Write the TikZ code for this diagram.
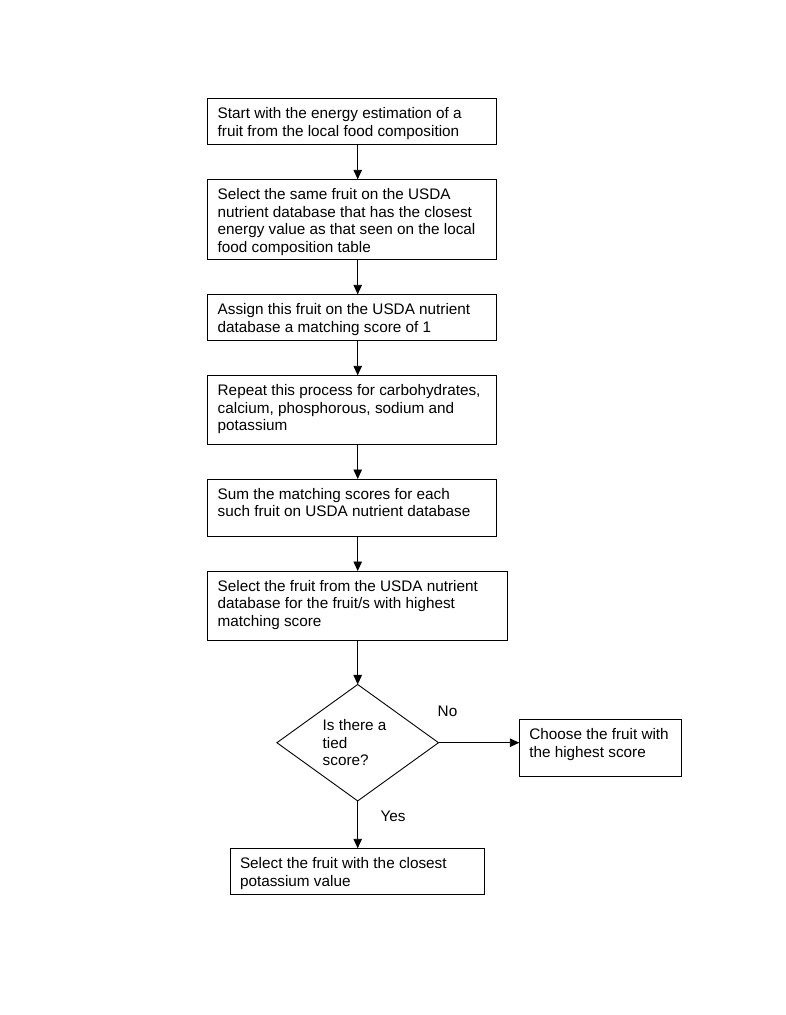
\documentclass[tikz,border=0pt]{standalone}
\usepackage{fontspec}
\setmainfont{Liberation Sans}
\usetikzlibrary{shapes.geometric,arrows.meta}
\newcommand\bxt[3]{\parbox[c][#2][t]{#1}{\vspace*{9.3pt}#3}}
\begin{document}
\begin{tikzpicture}[x=1pt,y=-1pt,
  font=\fontsize{15.3}{17.6}\selectfont,
  stepbox/.style={draw, line width=0.9pt, anchor=north west, inner xsep=10pt, inner ysep=0pt, outer sep=0pt},
  decision/.style={diamond, draw, line width=0.9pt, minimum width=161.6pt, minimum height=114.3pt, inner sep=0pt, outer sep=0pt},
  arr/.style={line width=0.9pt, -{Triangle[width=8.5pt,length=9.5pt]}},
  lbl/.style={inner sep=0pt}]
\useasboundingbox (0,0) rectangle (785,1015);
\coordinate (spine) at (357.7,0);
\node[stepbox] (b1) at (207.7,98.3) {\bxt{269pt}{46pt}{Start with the energy estimation of a\\fruit from the local food composition}};
\node[stepbox] (b2) at (207.7,179.3) {\bxt{269pt}{80pt}{Select the same fruit on the USDA\\nutrient database that has the closest\\energy value as that seen on the local\\food composition table}};
\node[stepbox] (b3) at (207.7,294.3) {\bxt{269pt}{46pt}{Assign this fruit on the USDA nutrient\\database a matching score of 1}};
\node[stepbox] (b4) at (207.7,375.3) {\bxt{269pt}{68.7pt}{Repeat this process for carbohydrates,\\calcium, phosphorous, sodium and\\potassium}};
\node[stepbox] (b5) at (207.7,479) {\bxt{269pt}{57.3pt}{Sum the matching scores for each\\such fruit on USDA nutrient database}};
\node[stepbox] (b6) at (207.7,571) {\bxt{280pt}{69pt}{Select the fruit from the USDA nutrient\\database for the fruit/s with highest\\matching score}};
\node[decision] (d) at (357.7,742.7) {\parbox{70pt}{Is there a\\tied\\score?}};
\node[stepbox] (rb) at (519.3,719.3) {\bxt{141.7pt}{57.4pt}{Choose the fruit with\\the highest score}};
\node[stepbox] (bb) at (230,848.3) {\bxt{234pt}{45.7pt}{Select the fruit with the closest\\potassium value}};
\node[lbl] (no) at (447.5,711) {No};
\node[lbl] (yes) at (393,816) {Yes};
\draw[arr] (b1.south -| spine) -- (b2.north -| spine);
\draw[arr] (b2.south -| spine) -- (b3.north -| spine);
\draw[arr] (b3.south -| spine) -- (b4.north -| spine);
\draw[arr] (b4.south -| spine) -- (b5.north -| spine);
\draw[arr] (b5.south -| spine) -- (b6.north -| spine);
\draw[arr] (b6.south -| spine) -- (d.north);
\draw[arr] (d.east) -- (rb.west |- d.east);
\draw[arr] (d.south) -- (bb.north -| d.south);
\end{tikzpicture}
\end{document}
